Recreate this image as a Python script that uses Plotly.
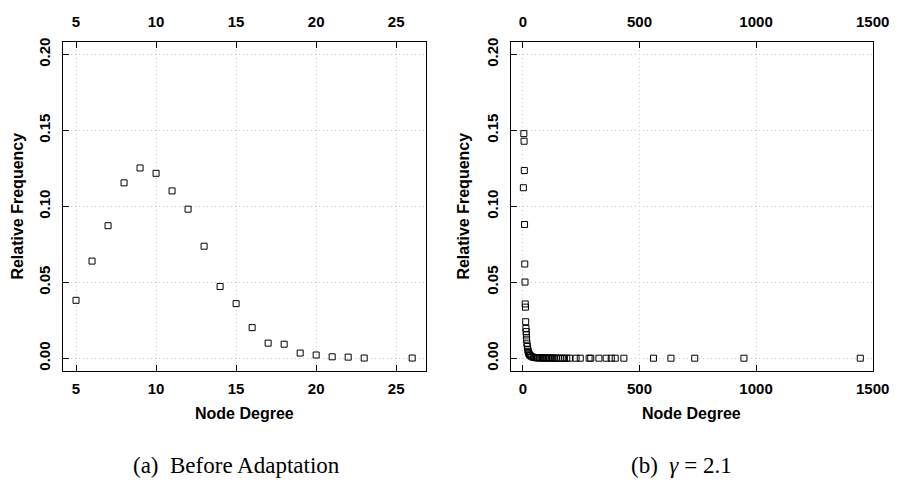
import plotly.graph_objects as go

# ---- data ----
deg_a = [5, 6, 7, 8, 9, 10, 11, 12, 13, 14, 15, 16, 17, 18, 19, 20, 21, 22, 23, 26]
freq_a = [0.0382, 0.0640, 0.0873, 0.1155, 0.1253, 0.1218, 0.1102, 0.0982, 0.0738, 0.0473,
          0.0360, 0.0202, 0.0100, 0.0093, 0.0035, 0.0022, 0.0010, 0.0008, 0.0002, 0.0002]

deg_b = [2, 4, 5, 6, 7, 8, 9, 10, 11, 12, 13, 14, 15, 16, 17, 19, 21, 23, 25, 28, 32, 38, 45, 52,
         58, 63, 68, 73, 78, 84, 90, 96, 102, 108, 115, 122, 129, 136, 144, 152, 160, 169, 178,
         188, 200, 228, 246, 284, 291, 326, 357, 379, 396, 433, 560, 635, 737, 948, 1447]
freq_b = [0.1123, 0.1479, 0.1429, 0.1236, 0.0881, 0.0621, 0.0502, 0.0358, 0.0337, 0.0241, 0.0197,
          0.0176, 0.0154, 0.0126, 0.0100, 0.0078, 0.0057, 0.0046, 0.0033, 0.0024, 0.0018, 0.0011,
          0.0007, 0.0005, 0.0004, 0.0004, 0.0003, 0.0003, 0.0003, 0.0003, 0.0002, 0.0002, 0.0002,
          0.0002, 0.0002, 0.0002, 0.0002, 0.0002, 0.0001, 0.0001, 0.0001, 0.0001, 0.0001, 0.0001,
          0.0001, 0.0001, 0.0001, 0.0001, 0.0001, 0.0001, 0.0001, 0.0001, 0.0001, 0.0001, 0.0001,
          0.0001, 0.0001, 0.0001, 0.0001]

xticks_a = [5, 10, 15, 20, 25]
xticks_b = [0, 500, 1000, 1500]
yticks = [0.00, 0.05, 0.10, 0.15, 0.20]
ytick_text = ["0.00", "0.05", "0.10", "0.15", "0.20"]
x_title = "Node Degree"
y_title = "Relative Frequency"
caption_a = "(a)  Before Adaptation"
caption_b = "(b)  <i>γ</i> = 2.1"

# ---- style ----
W, H = 908, 486
SANS = "Liberation Sans, Arial, sans-serif"
SERIF = "Liberation Serif, Times New Roman, serif"
tickfont = dict(family=SANS, size=15, color="black", weight="bold")
titlefont = dict(family=SANS, size=16, color="black", weight="bold")
capfont = dict(family=SERIF, size=23, color="black")

def px_x(p):
    return p / W

def px_y(p):
    return 1 - p / H

box_top, box_bot = 37.7, 369.3
dom_y = [px_y(box_bot), px_y(box_top)]
dom_a = [px_x(63.7), px_x(433.3)]
dom_b = [px_x(519.7), px_x(889.0)]
range_a = [4.16, 26.84]
range_b = [-53, 1503]
range_y = [-0.008, 0.208]

marker = dict(symbol="square-open", size=6, color="black", line=dict(width=1, color="black"))
ghost = dict(symbol="square-open", size=6, color="rgba(0,0,0,0)", opacity=0)

fig = go.Figure()
fig.add_trace(go.Scatter(x=deg_a, y=freq_a, mode="markers", marker=marker,
                         xaxis="x", yaxis="y", showlegend=False))
fig.add_trace(go.Scatter(x=deg_b, y=freq_b, mode="markers", marker=marker,
                         xaxis="x2", yaxis="y2", showlegend=False))
# carriers for the top axes
fig.add_trace(go.Scatter(x=deg_a, y=freq_a, mode="markers", marker=ghost, hoverinfo="skip",
                         xaxis="x3", yaxis="y", showlegend=False))
fig.add_trace(go.Scatter(x=deg_b, y=freq_b, mode="markers", marker=ghost, hoverinfo="skip",
                         xaxis="x4", yaxis="y2", showlegend=False))

grid = dict(showgrid=True, gridcolor="#c8c8c8", griddash="1px,3px", gridwidth=1, zeroline=False)
common_x = dict(ticks="inside", ticklen=6, tickwidth=1, tickcolor="black",
                showline=True, linecolor="black", linewidth=1, mirror=True,
                tickfont=tickfont, ticklabelstandoff=4, **grid)
common_y = dict(ticks="inside", ticklen=6, tickwidth=1, tickcolor="black",
                showline=True, linecolor="black", linewidth=1, mirror=True,
                tickfont=tickfont, tickangle=-90, ticklabelstandoff=6,
                tickvals=yticks, ticktext=ytick_text, range=range_y, **grid)
top_x = dict(ticks="inside", ticklen=6, tickwidth=1, tickcolor="black",
             showline=False, showgrid=False, zeroline=False, side="top",
             tickfont=tickfont, ticklabelstandoff=11)

fig.update_layout(
    width=W, height=H,
    margin=dict(l=0, r=0, t=0, b=0),
    paper_bgcolor="white", plot_bgcolor="white",
    xaxis=dict(domain=dom_a, range=range_a, tickvals=xticks_a, anchor="y", **common_x),
    yaxis=dict(domain=dom_y, anchor="x", **common_y),
    xaxis2=dict(domain=dom_b, range=range_b, tickvals=xticks_b, anchor="y2", **common_x),
    yaxis2=dict(domain=dom_y, anchor="x2", **common_y),
    xaxis3=dict(overlaying="x", range=range_a, tickvals=xticks_a, anchor="y", **top_x),
    xaxis4=dict(overlaying="x2", range=range_b, tickvals=xticks_b, anchor="y2", **top_x),
    annotations=[
        dict(text=x_title, x=(dom_a[0] + dom_a[1]) / 2, y=px_y(413), xref="paper", yref="paper",
             showarrow=False, font=titlefont, xanchor="center", yanchor="middle"),
        dict(text=x_title, x=(dom_b[0] + dom_b[1]) / 2, y=px_y(413), xref="paper", yref="paper",
             showarrow=False, font=titlefont, xanchor="center", yanchor="middle"),
        dict(text=y_title, x=px_x(17.5), y=(dom_y[0] + dom_y[1]) / 2, xref="paper", yref="paper",
             showarrow=False, font=titlefont, textangle=-90, xanchor="center", yanchor="middle"),
        dict(text=y_title, x=px_x(454 + 17.5), y=(dom_y[0] + dom_y[1]) / 2, xref="paper", yref="paper",
             showarrow=False, font=titlefont, textangle=-90, xanchor="center", yanchor="middle"),
        dict(text=caption_a, x=px_x(133), y=px_y(465), xref="paper", yref="paper",
             showarrow=False, font=capfont, xanchor="left", yanchor="middle"),
        dict(text=caption_b, x=px_x(640), y=px_y(465), xref="paper", yref="paper",
             showarrow=False, font=capfont, xanchor="left", yanchor="middle"),
    ],
)

fig.write_html("out.html", config={"displayModeBar": False},
               post_script="document.body.style.margin='0';"
               "document.body.style.overflow='hidden';")
